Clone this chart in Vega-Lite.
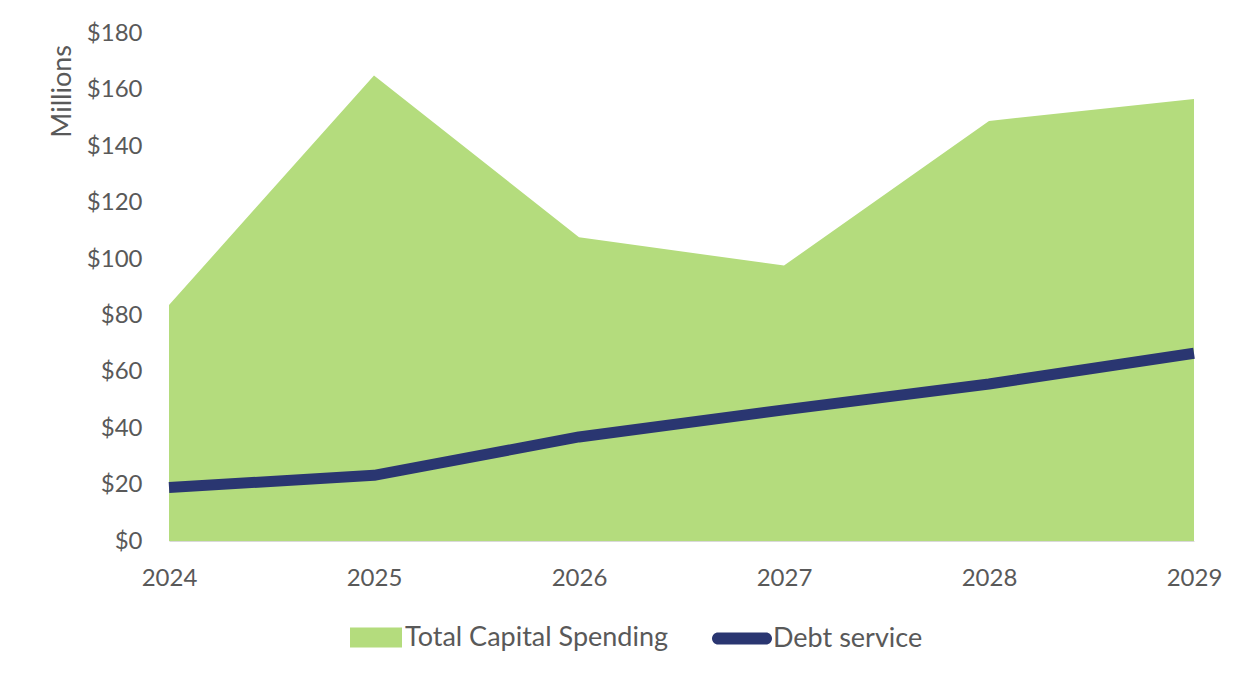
{
  "$schema": "https://vega.github.io/schema/vega-lite/v6.json",
  "width": 1025,
  "height": 507.5,
  "autosize": {"type": "none"},
  "padding": {"left": 169, "top": 33.5, "right": 55, "bottom": 138},
  "background": "white",
  "config": {
    "view": {"stroke": null},
    "font": "Lato",
    "axis": {"labelFont": "Lato", "titleFont": "Lato", "labelColor": "#595959", "titleColor": "#595959", "grid": false, "ticks": false}
  },
  "data": {
    "values": [
      {"year": "2024", "capital": 83.7, "debt": 19.0},
      {"year": "2025", "capital": 165.1, "debt": 23.3},
      {"year": "2026", "capital": 107.7, "debt": 36.9},
      {"year": "2027", "capital": 97.7, "debt": 46.5},
      {"year": "2028", "capital": 149.0, "debt": 55.7},
      {"year": "2029", "capital": 156.8, "debt": 66.6}
    ]
  },
  "layer": [
    {
      "mark": {"type": "area", "opacity": 1},
      "encoding": {
        "x": {
          "field": "year", "type": "ordinal",
          "scale": {"type": "point", "padding": 0},
          "axis": {"title": null, "labelAngle": 0, "labelFontSize": 24, "labelPadding": 25, "domain": true, "domainColor": "#d9d9d9", "domainWidth": 1}
        },
        "y": {
          "field": "capital", "type": "quantitative",
          "scale": {"domain": [0, 180], "nice": false},
          "axis": {
            "values": [0, 20, 40, 60, 80, 100, 120, 140, 160, 180],
            "labelExpr": "'$' + datum.value",
            "labelFontSize": 24, "labelPadding": 27, "domain": false,
            "title": "Millions", "titleFontSize": 27, "titleFontWeight": "normal",
            "titleAngle": -90, "titleX": -107, "titleY": 11, "titleAlign": "right", "titleBaseline": "middle"
          }
        },
        "fill": {
          "datum": "Total Capital Spending", "type": "nominal",
          "scale": {"range": ["#b4dc7d"]},
          "legend": {
            "title": null, "orient": "none", "legendX": 181, "legendY": 578, "padding": 0,
            "symbolType": "M-1,-0.385H1V0.385H-1Z", "symbolSize": 2704, "symbolStrokeWidth": 0, "symbolOpacity": 1,
            "labelFontSize": 27, "labelColor": "#595959", "labelFont": "Lato", "labelOffset": 3, "labelLimit": 0
          }
        }
      }
    },
    {
      "mark": {"type": "line", "strokeWidth": 11, "strokeJoin": "round"},
      "encoding": {
        "x": {"field": "year", "type": "ordinal", "scale": {"type": "point", "padding": 0}},
        "y": {"field": "debt", "type": "quantitative"},
        "stroke": {
          "datum": "Debt service", "type": "nominal",
          "scale": {"range": ["#2a3671"]},
          "legend": {
            "title": null, "orient": "none", "legendX": 543, "legendY": 575, "padding": 0,
            "symbolType": "M-0.8,-0.2H0.8A0.2,0.2 0 0 1 0.8,0.2H-0.8A0.2,0.2 0 0 1 -0.8,-0.2Z", "symbolSize": 3600, "symbolStrokeWidth": 0,
            "symbolFillColor": "#2a3671",
            "labelFontSize": 27, "labelColor": "#595959", "labelFont": "Lato", "labelOffset": 1, "labelLimit": 0
          }
        }
      }
    }
  ]
}
